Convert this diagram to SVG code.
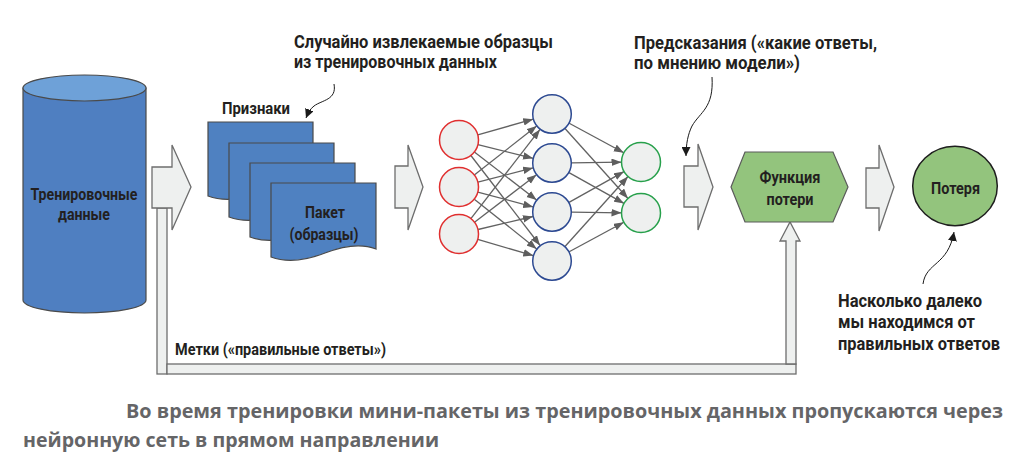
<svg xmlns="http://www.w3.org/2000/svg" width="1020" height="469" viewBox="0 0 1020 469">
<defs>
<style>
.lbl{font-family:Roboto,"Noto Sans","DejaVu Sans",sans-serif;font-weight:700;fill:#231f20}
.cap{font-family:"Open Sans","Noto Sans",sans-serif;font-weight:700;fill:#656567;font-size:20px}
.blk{fill:#eef0ef;stroke:#6d6d6d;stroke-width:1.3}
.doc{fill:#4f81c1;stroke:#4a4a4a;stroke-width:1.2}
.nin{fill:#eef0ef;stroke:#e02f2f;stroke-width:1.5}
.nhid{fill:#eef0ef;stroke:#2d4a92;stroke-width:1.5}
.nout{fill:#eef0ef;stroke:#27a04b;stroke-width:1.5}
.edge{stroke:#626262;stroke-width:1.3;fill:none;marker-end:url(#ah)}
.ann{stroke:#1a1a1a;stroke-width:1;fill:none;marker-end:url(#ab)}
</style>
<marker id="ah" markerUnits="userSpaceOnUse" markerWidth="11" markerHeight="8" refX="10" refY="3.75" orient="auto">
<path d="M0,0 L10,3.75 L0,7.5 Z" fill="#5e5e5e"/>
</marker>
<marker id="ab" markerUnits="userSpaceOnUse" markerWidth="10" markerHeight="9" refX="9" refY="4.5" orient="auto">
<path d="M0,0 L9,4.5 L0,9 Z" fill="#1a1a1a"/>
</marker>
<path id="docshape" d="M0,0 H105 V66 C90,60 72,63 54,70 C36,77 16,80 0,74 Z"/>
</defs>

<g id="training-data">
<path d="M23,88 V300 A61.5,13 0 0 0 146,300 V88 Z" fill="#4f7fc1" stroke="#4a4a4a" stroke-width="1.2"/>
<ellipse cx="84.5" cy="88" rx="61.5" ry="13" fill="#6ea1d8" stroke="#4a4a4a" stroke-width="1.2"/>
<text class="lbl" font-size="17" text-anchor="middle" x="84" y="200" textLength="107" lengthAdjust="spacingAndGlyphs">Тренировочные</text>
<text class="lbl" font-size="17" text-anchor="middle" x="84" y="220" textLength="52" lengthAdjust="spacingAndGlyphs">данные</text>
</g>

<g id="connectors">
<rect class="blk" x="157" y="208" width="10" height="166"/>
<rect class="blk" x="167" y="364" width="629" height="10"/>
<polygon class="blk" points="786,364 786,241 780,241 790,222 800,241 796,241 796,364"/>
<polygon class="blk" points="152,167 172,167 172,145 191,187 172,230 172,208 152,208"/>
<polygon class="blk" points="395,166 408,166 408,145 423,187 408,230 408,208 395,208"/>
<polygon class="blk" points="684,166 698,166 698,144 713,187 698,230 698,207 684,207"/>
<polygon class="blk" points="866,168 879,168 879,145 894,187 879,231 879,208 866,208"/>

<line class="edge" x1="477.8" y1="134.8" x2="533.2" y2="119.2"/>
<line class="edge" x1="477.9" y1="144.7" x2="533.1" y2="158.3"/>
<line class="edge" x1="474.4" y1="151.9" x2="536.6" y2="200.1"/>
<line class="edge" x1="470.9" y1="155.5" x2="540.1" y2="245.5"/>
<line class="edge" x1="474.3" y1="175.0" x2="536.7" y2="126.0"/>
<line class="edge" x1="477.9" y1="182.1" x2="533.1" y2="167.9"/>
<line class="edge" x1="477.8" y1="192.1" x2="533.2" y2="206.9"/>
<line class="edge" x1="474.3" y1="199.2" x2="536.7" y2="248.9"/>
<line class="edge" x1="470.9" y1="218.6" x2="540.0" y2="129.4"/>
<line class="edge" x1="474.5" y1="222.2" x2="536.5" y2="174.8"/>
<line class="edge" x1="478.0" y1="229.5" x2="533.0" y2="216.5"/>
<line class="edge" x1="477.7" y1="239.4" x2="533.3" y2="255.6"/>
<line class="edge" x1="569.2" y1="123.3" x2="623.8" y2="152.7"/>
<line class="edge" x1="565.0" y1="128.5" x2="628.0" y2="198.5"/>
<line class="edge" x1="571.5" y1="162.8" x2="621.5" y2="162.2"/>
<line class="edge" x1="569.0" y1="172.6" x2="624.0" y2="203.4"/>
<line class="edge" x1="569.0" y1="202.4" x2="624.0" y2="171.6"/>
<line class="edge" x1="571.5" y1="212.2" x2="621.5" y2="212.8"/>
<line class="edge" x1="565.0" y1="246.5" x2="628.0" y2="176.5"/>
<line class="edge" x1="569.2" y1="251.7" x2="623.8" y2="222.3"/>

<path class="ann" d="M334,84 C337,100 322,100 314,106 C310,109 308,113 306,118"/>
<path class="ann" d="M712,77 C714,108 700,112 692,126 C688,134 686,144 686,156"/>
<path class="ann" d="M923,284 C926,262 948,266 954,232"/>
</g>

<g id="batch">
<use href="#docshape" class="doc" x="208" y="122"/>
<use href="#docshape" class="doc" x="229" y="143"/>
<use href="#docshape" class="doc" x="250" y="163"/>
<use href="#docshape" class="doc" x="271" y="183"/>
<text class="lbl" font-size="17" text-anchor="middle" x="325" y="218" textLength="40" lengthAdjust="spacingAndGlyphs">Пакет</text>
<text class="lbl" font-size="17" text-anchor="middle" x="324" y="240" textLength="69" lengthAdjust="spacingAndGlyphs">(образцы)</text>
</g>

<g id="label-features">
<text class="lbl" font-size="16" x="222" y="114" textLength="68" lengthAdjust="spacingAndGlyphs">Признаки</text>
</g>

<g id="label-sampled">
<text class="lbl" font-size="18" x="294" y="48" textLength="259" lengthAdjust="spacingAndGlyphs">Случайно извлекаемые образцы</text>
<text class="lbl" font-size="18" x="294" y="68" textLength="203" lengthAdjust="spacingAndGlyphs">из тренировочных данных</text>
</g>

<g id="network">
<circle class="nin" cx="459" cy="140" r="19.5"/>
<circle class="nin" cx="459" cy="187" r="19.5"/>
<circle class="nin" cx="459" cy="234" r="19.5"/>
<circle class="nhid" cx="552" cy="114" r="19.3"/>
<circle class="nhid" cx="552" cy="163" r="19.3"/>
<circle class="nhid" cx="552" cy="212" r="19.3"/>
<circle class="nhid" cx="552" cy="261" r="19.3"/>
<circle class="nout" cx="641" cy="162" r="19.5"/>
<circle class="nout" cx="641" cy="213" r="19.5"/>
</g>

<g id="label-predictions">
<text class="lbl" font-size="18" x="634" y="49" textLength="243" lengthAdjust="spacingAndGlyphs">Предсказания («какие ответы,</text>
<text class="lbl" font-size="18" x="634" y="69" textLength="166" lengthAdjust="spacingAndGlyphs">по мнению модели»)</text>
</g>

<g id="loss-function">
<polygon points="731,187 745,152 833,152 848,187 833,222 745,222" fill="#93c47d" stroke="#5a5a5a" stroke-width="1.2"/>
<text class="lbl" font-size="17" text-anchor="middle" x="790" y="183" textLength="61" lengthAdjust="spacingAndGlyphs">Функция</text>
<text class="lbl" font-size="17" text-anchor="middle" x="790" y="205" textLength="47" lengthAdjust="spacingAndGlyphs">потери</text>
</g>

<g id="loss">
<ellipse cx="955" cy="186" rx="42.3" ry="39.7" fill="#93c47d" stroke="#1e1e1e" stroke-width="1.5"/>
<text class="lbl" font-size="17" text-anchor="middle" x="955.5" y="194" textLength="49" lengthAdjust="spacingAndGlyphs">Потеря</text>
</g>

<g id="label-distance">
<text class="lbl" font-size="18" x="838" y="307" textLength="144" lengthAdjust="spacingAndGlyphs">Насколько далеко</text>
<text class="lbl" font-size="18" x="838" y="328" textLength="137" lengthAdjust="spacingAndGlyphs">мы находимся от</text>
<text class="lbl" font-size="18" x="838" y="350" textLength="162" lengthAdjust="spacingAndGlyphs">правильных ответов</text>
</g>

<g id="label-labels">
<text class="lbl" font-size="16" x="175" y="355" textLength="211" lengthAdjust="spacingAndGlyphs">Метки («правильные ответы»)</text>
</g>

<g id="caption">
<text class="cap" x="126" y="418" textLength="877" lengthAdjust="spacingAndGlyphs">Во время тренировки мини-пакеты из тренировочных данных пропускаются через</text>
<text class="cap" x="23" y="447" textLength="416" lengthAdjust="spacingAndGlyphs">нейронную сеть в прямом направлении</text>
</g>
</svg>
